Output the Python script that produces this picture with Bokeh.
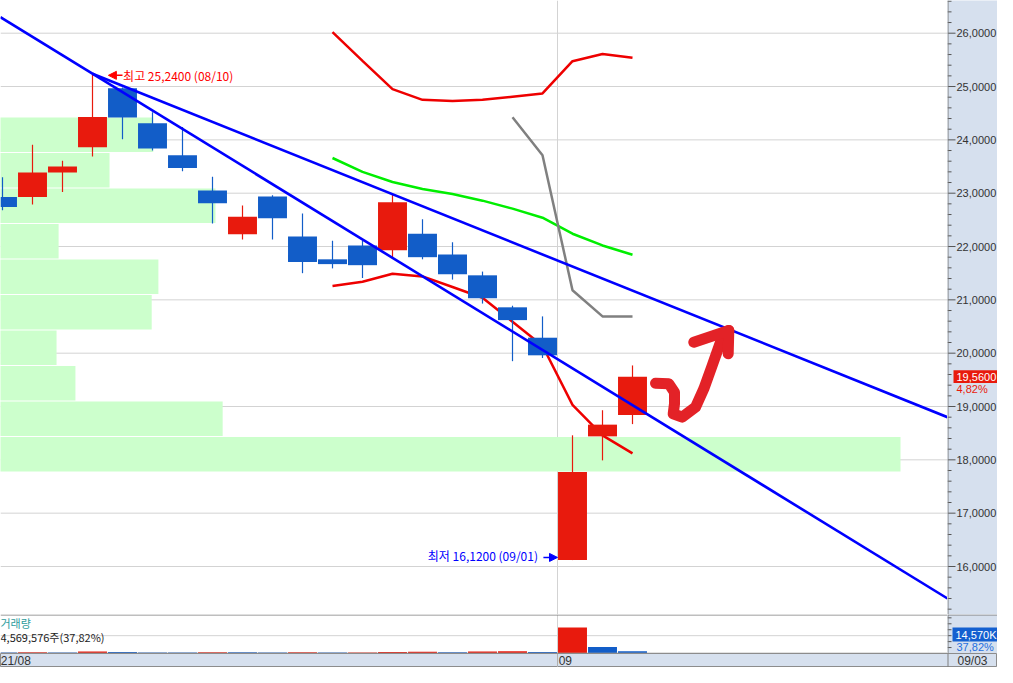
import numpy as np
from bokeh.plotting import figure
from bokeh.layouts import column, row
from bokeh.models import Range1d, Span, Label, Arrow, NormalHead
from bokeh.core.properties import value
from bokeh.embed import file_html
from bokeh.resources import INLINE

# ---------------- data ----------------
year = "21"
dates = ["08/05", "08/06", "08/09", "08/10", "08/11", "08/12", "08/13", "08/16",
         "08/17", "08/18", "08/19", "08/20", "08/23", "08/24", "08/25", "08/26",
         "08/27", "08/30", "08/31", "09/01", "09/02", "09/03"]
opens = [22.93, 22.93, 23.39, 23.86, 24.97, 24.31, 23.71, 23.05, 22.23, 22.94, 22.19,
         21.76, 22.02, 21.93, 22.24, 21.85, 21.46, 20.86, 20.29, 16.12, 18.44, 18.84]
highs = [23.30, 23.91, 23.61, 25.24, 24.98, 24.52, 24.24, 23.31, 22.77, 22.96, 22.62,
         22.11, 22.11, 22.99, 22.51, 22.08, 21.53, 20.89, 20.69, 18.46, 18.93, 19.77]
lows = [22.68, 22.79, 23.02, 23.69, 24.01, 23.80, 23.41, 22.43, 22.13, 22.13, 21.50,
        21.59, 21.41, 21.80, 21.76, 21.38, 20.93, 19.85, 19.91, 16.12, 17.99, 18.67]
closes = [22.74, 23.39, 23.50, 24.43, 24.42, 23.84, 23.47, 22.81, 22.56, 22.53, 21.71,
          21.67, 21.65, 22.83, 21.80, 21.48, 21.03, 20.62, 19.96, 17.77, 18.66, 19.56]
volumes_m = [7.5, 8.2, 7.0, 13.0, 9.5, 7.2, 6.0, 9.0, 8.0, 6.5, 8.3,
             6.4, 7.0, 10.8, 11.3, 9.0, 13.5, 15.9, 10.9, 175.0, 43.2, 14.57]

band_start = 11  # first bar index of the band lines
bb_upper = [26.02, 25.48, 24.95, 24.75, 24.73, 24.75, 24.81, 24.87, 25.475, 25.61, 25.54]
bb_mid = [23.66, 23.40, 23.21, 23.08, 22.985, 22.86, 22.71, 22.54, 22.24, 22.02, 21.845]
bb_lower = [21.26, 21.34, 21.49, 21.44, 21.24, 21.04, 20.59, 20.14, 19.03, 18.46, 18.12]
gray_start = 17
gray_line = [24.425, 23.71, 21.18, 20.69, 20.69]

price_ticks = [16, 17, 18, 19, 20, 21, 22, 23, 24, 25, 26]
volume_ticks = [40, 80, 120, 160, 200, 240]
profile_bins = 10

# user-drawn trend lines (bar index, price)
trend_a_x = [-0.07, 31.5]
trend_a_y = [26.30, 15.40]
trend_b_x = [3.0, 31.5]
trend_b_y = [25.24, 18.80]

# user-drawn free-hand arrow (bar index, price)
draw_x = [21.767, 22.21, 22.40, 22.40, 22.357, 22.657, 23.10, 23.377, 23.657, 23.933, 24.21]
draw_y = [19.437, 19.426, 19.268, 19.051, 18.864, 18.800, 18.987, 19.332, 19.769, 20.206, 20.425]
head_x = [23.043, 24.21, 24.19]
head_y = [20.206, 20.425, 19.988]

volume_title = "거래량"
volume_text = "4,569,576주(37,82%)"
volume_ratio_text = "37,82%"

# ---------------- styles / layout ----------------
UP = "#e81a0d"
DOWN = "#125dc8"
AXIS_BG = "#d6e0ee"
GRID = "#d3d3d3"
EDGE = "#7f7f7f"
PXB = 30.0                      # pixels per bar
FRAME_W = 947
AX_W = 50
TOTAL_W = FRAME_W + AX_W
X0 = -2.0 / PXB
X1 = X0 + FRAME_W / PXB
PRICE_H = 614
VOL_H = 39
DATE_H = 14
PXP = 53.33                     # pixels per price unit
Y_TOP = 26 + 32.7 / PXP
Y_BOT = Y_TOP - PRICE_H / PXP
VMAX = 262.5
NUM_FONT = "Liberation Sans"
KR_FONT = "Noto Sans CJK KR"


def base_fig(w, h, xr, yr):
    f = figure(width=w, height=h, x_range=xr, y_range=yr, output_backend="svg",
               toolbar_location=None, x_axis_location=None, y_axis_location=None,
               min_border_left=0, min_border_right=0, min_border_top=0, min_border_bottom=0)
    f.xgrid.visible = False
    f.ygrid.visible = False
    f.outline_line_color = None
    return f


n = len(dates)
idx = np.arange(n)
o = np.array(opens); h = np.array(highs); l = np.array(lows); c = np.array(closes)
v = np.array(volumes_m)
up = c >= o
ccol = [UP if u else DOWN for u in up]
vol_up = [False] + [v[i] > v[i - 1] for i in range(1, n)]
vcol = [UP if u else DOWN for u in vol_up]

# price-by-volume profile from closes
lo, hi = c.min(), c.max()
edges = np.linspace(lo, hi, profile_bins + 1)
bins = np.clip(((c - lo) / (hi - lo) * profile_bins).astype(int), 0, profile_bins - 1)
prof = np.bincount(bins, weights=v, minlength=profile_bins)
gap = 1.0 / PXP
prof_right = X0 + prof / prof.max() * 30.0

month_break = [i - 0.5 for i in range(1, n) if dates[i][:2] != dates[i - 1][:2]]

# ---------------- price panel ----------------
pA = base_fig(FRAME_W, PRICE_H, Range1d(X0, X1), Range1d(Y_BOT, Y_TOP))
pA.background_fill_color = "white"
pA.border_fill_color = "white"
for t in price_ticks:
    pA.add_layout(Span(location=t, dimension="width", line_color=GRID, line_width=1,
                       level="underlay"))
for mb in month_break:
    pA.add_layout(Span(location=mb, dimension="height", line_color=GRID, line_width=1,
                       level="underlay"))

pA.quad(left=X0 - 1, right=prof_right, bottom=edges[:-1] + gap / 2, top=edges[1:] - gap / 2,
        fill_color="#ccffcc", line_color=None)

xs_band = idx[band_start:band_start + len(bb_upper)]
pA.line(xs_band, bb_upper, line_color="#ee0000", line_width=2.5)
pA.line(xs_band, bb_lower, line_color="#ee0000", line_width=2.5)
pA.line(xs_band, bb_mid, line_color="#00ee00", line_width=2.5)
pA.line(idx[gray_start:gray_start + len(gray_line)], gray_line, line_color="#808080",
        line_width=2.5)

pA.segment(x0=idx, y0=l, x1=idx, y1=h, line_color=ccol, line_width=1.2)
pA.vbar(x=idx, top=np.maximum(o, c), bottom=np.minimum(o, c), width=0.965,
        fill_color=ccol, line_color=None)

pA.line(trend_a_x, trend_a_y, line_color="#0000ff", line_width=2.6)
pA.line(trend_b_x, trend_b_y, line_color="#0000ff", line_width=2.6)

pA.line(draw_x, draw_y, line_color="#e32227", line_width=11, line_cap="round",
        line_join="round")
pA.line(head_x, head_y, line_color="#e32227", line_width=11, line_cap="round",
        line_join="round")

# high / low annotations
ih = int(np.argmax(h)); il = int(np.argmin(l))
hi_txt = f"최고 {h[ih]:.4f}".replace(".", ",") + f" ({dates[ih]})"
lo_txt = f"최저 {l[il]:.4f}".replace(".", ",") + f" ({dates[il]})"
pA.add_layout(Arrow(end=NormalHead(size=8, fill_color="#ff0000", line_color="#ff0000"),
                    x_start=ih + 1.0, y_start=h[ih] - 0.03, x_end=ih + 0.53, y_end=h[ih] - 0.03,
                    line_color="#ff0000", line_width=1.5))
pA.add_layout(Label(x=ih + 1.02, y=h[ih] - 0.03, text=hi_txt, text_font=KR_FONT,
                    text_font_size="12px", text_color="#ff0000", text_baseline="middle",
                    text_align="left"))
pA.add_layout(Arrow(end=NormalHead(size=8, fill_color="#0000ff", line_color="#0000ff"),
                    x_start=il - 0.97, y_start=l[il] + 0.05, x_end=il - 0.5, y_end=l[il] + 0.05,
                    line_color="#0000ff", line_width=1.5))
pA.add_layout(Label(x=il - 1.15, y=l[il] + 0.09, text=lo_txt, text_font=KR_FONT,
                    text_font_size="12px", text_color="#0000ff", text_baseline="middle",
                    text_align="right"))

# ---------------- price axis strip ----------------
pAr = base_fig(AX_W, PRICE_H, Range1d(0, AX_W), pA.y_range)
pAr.background_fill_color = AXIS_BG
pAr.border_fill_color = AXIS_BG
pAr.add_layout(Span(location=0.5, dimension="height", line_color=EDGE, line_width=1))
minor = [round(m, 2) for m in np.arange(15.2, 26.61, 0.2) if abs(m - round(m)) > 1e-6]
pAr.segment(x0=0, x1=8, y0=price_ticks, y1=price_ticks, line_color="#555555", line_width=1)
pAr.segment(x0=0, x1=4, y0=minor, y1=minor, line_color="#555555", line_width=1)
tick_labels = [f"{t:.4f}".replace(".", ",") for t in price_ticks]
pAr.text(x=[9] * len(price_ticks), y=price_ticks, text=tick_labels, text_font=value(NUM_FONT),
         text_font_size="11px", text_color="#333333", text_baseline="middle", text_align="left")
last_txt = f"{c[-1]:.4f}".replace(".", ",")
pct_txt = f"{(c[-1] / c[-2] - 1) * 100:.2f}".replace(".", ",") + "%"
pAr.quad(left=[6], right=[AX_W], bottom=[c[-1] - 6.3 / PXP], top=[c[-1] + 6.3 / PXP],
         fill_color=UP, line_color=None)
pAr.text(x=[9], y=[c[-1]], text=[last_txt], text_font=value(NUM_FONT), text_font_size="11px",
         text_color="white", text_baseline="middle", text_align="left")
pAr.text(x=[9], y=[c[-1] - 12 / PXP], text=[pct_txt], text_font=value(NUM_FONT),
         text_font_size="11px", text_color=UP, text_baseline="middle", text_align="left")

# ---------------- volume panel ----------------
pB = base_fig(FRAME_W, VOL_H, pA.x_range, Range1d(0, VMAX))
pB.background_fill_color = "white"
pB.border_fill_color = "white"
vpx = VMAX / VOL_H
pB.add_layout(Span(location=120, dimension="width", line_color=GRID, line_width=1,
                   level="underlay"))
for mb in month_break:
    pB.add_layout(Span(location=mb, dimension="height", line_color=GRID, line_width=1,
                       level="underlay"))
pB.vbar(x=idx, top=v, bottom=0, width=0.965, fill_color=vcol, line_color=None)
pB.add_layout(Span(location=VMAX - 0.5 * vpx, dimension="width", line_color=EDGE, line_width=1))
pB.add_layout(Span(location=0.3 * vpx, dimension="width", line_color="#a0a0a0", line_width=1))
pB.add_layout(Label(x=0, y=31, x_units="screen", y_units="screen", text=volume_title,
                    text_font=KR_FONT, text_font_size="11px", text_color="#2c9c9c",
                    text_baseline="middle"))
pB.add_layout(Label(x=0, y=17, x_units="screen", y_units="screen", text=volume_text,
                    text_font=KR_FONT, text_font_size="11px", text_color="#222222",
                    text_baseline="middle"))

pBr = base_fig(AX_W, VOL_H, Range1d(0, AX_W), pB.y_range)
pBr.background_fill_color = AXIS_BG
pBr.border_fill_color = AXIS_BG
pBr.add_layout(Span(location=0.5, dimension="height", line_color=EDGE, line_width=1))
pBr.add_layout(Span(location=VMAX - 0.5 * vpx, dimension="width", line_color=EDGE, line_width=1))
pBr.segment(x0=0, x1=4, y0=volume_ticks, y1=volume_ticks, line_color="#555555", line_width=1)
vol_txt = f"{v[-1] * 1000:,.0f}K"
pBr.quad(left=[5], right=[AX_W], bottom=[12 * vpx], top=[26 * vpx], fill_color="#1460d0",
         line_color=None)
pBr.text(x=[8], y=[19 * vpx], text=[vol_txt], text_font=value(NUM_FONT), text_font_size="11px",
         text_color="white", text_baseline="middle", text_align="left")
pBr.text(x=[9], y=[7 * vpx], text=[volume_ratio_text], text_font=value(NUM_FONT),
         text_font_size="11px", text_color="#1f6fe0", text_baseline="middle", text_align="left")

# ---------------- date band ----------------
pC = base_fig(TOTAL_W, DATE_H, Range1d(X0, X0 + TOTAL_W / PXB), Range1d(0, 1))
pC.background_fill_color = AXIS_BG
pC.border_fill_color = AXIS_BG
pC.outline_line_color = "#8c8c8c"
pC.segment(x0=month_break, y0=[0] * len(month_break), x1=month_break,
           y1=[1] * len(month_break), line_color="#b0b0b0", line_width=1)
pC.segment(x0=[X1 + 0.5 / PXB], y0=[0], x1=[X1 + 0.5 / PXB], y1=[1], line_color=EDGE,
           line_width=1)
lab_x = [X0 + 0.01] + [mb + 0.04 for mb in month_break] + [X1 + 10 / PXB]
lab_t = ([f"{year}/{dates[0][:2]}"] + [dates[int(mb + 0.5)][:2] for mb in month_break]
         + [dates[-1]])
pC.text(x=lab_x, y=[0.5] * len(lab_x), text=lab_t, text_font=value(NUM_FONT),
        text_font_size="12px", text_color="#333333", text_baseline="middle", text_align="left")

layout = column(row(pA, pAr, spacing=0), row(pB, pBr, spacing=0), pC, spacing=0)
open("out.html", "w").write(file_html(layout, INLINE))
